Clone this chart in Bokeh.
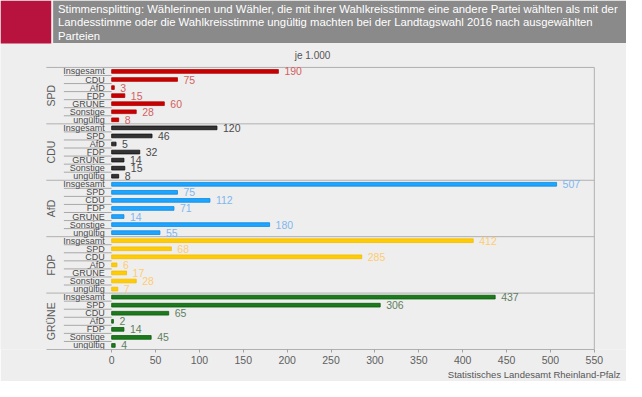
import math
from bokeh.plotting import figure
from bokeh.models import Range1d, FixedTicker, Title, ColumnDataSource
from bokeh.core.properties import value
from bokeh.embed import file_html
from bokeh.resources import INLINE

# ---------------- data ----------------
parties = ["SPD", "CDU", "AfD", "FDP", "GRÜNE"]
spd_cats = ["Insgesamt", "CDU", "AfD", "FDP", "GRÜNE", "Sonstige", "ungültig"]
spd_vals = [190, 75, 3, 15, 60, 28, 8]
cdu_cats = ["Insgesamt", "SPD", "AfD", "FDP", "GRÜNE", "Sonstige", "ungültig"]
cdu_vals = [120, 46, 5, 32, 14, 15, 8]
afd_cats = ["Insgesamt", "SPD", "CDU", "FDP", "GRÜNE", "Sonstige", "ungültig"]
afd_vals = [507, 75, 112, 71, 14, 180, 55]
fdp_cats = ["Insgesamt", "SPD", "CDU", "AfD", "GRÜNE", "Sonstige", "ungültig"]
fdp_vals = [412, 68, 285, 6, 17, 28, 7]
gruene_cats = ["Insgesamt", "SPD", "CDU", "AfD", "FDP", "Sonstige", "ungültig"]
gruene_vals = [437, 306, 65, 2, 14, 45, 4]
x_ticks = [0, 50, 100, 150, 200, 250, 300, 350, 400, 450, 500, 550]

title_lines = [
    "Stimmensplitting:  Wählerinnen und Wähler, die mit ihrer Wahlkreisstimme  eine andere Partei wählten als mit der",
    "Landesstimme  oder die Wahlkreisstimme  ungültig machten bei der Landtagswahl  2016 nach ausgewählten",
    "Parteien",
]
unit_text = "je 1.000"
source_text = "Statistisches Landesamt Rheinland-Pfalz"

# ---------------- styles ----------------
bar_fill = {"SPD": "#c80000", "CDU": "#333333", "AfD": "#1ea5ff", "FDP": "#ffcc00", "GRÜNE": "#1b7a1b"}
bar_line = {"SPD": "#b00000", "CDU": "#111111", "AfD": "#0a8ae0", "FDP": "#f2bb00", "GRÜNE": "#0d5a0d"}
lab_col = {"SPD": "#d46060", "CDU": "#4a4a4a", "AfD": "#7fb7ef", "FDP": "#ffcc70", "GRÜNE": "#5f7f5f"}
BG = "#eeeeee"
FONT = "Liberation Sans"

groups = [spd_cats, cdu_cats, afd_cats, fdp_cats, gruene_cats]
gvals = [spd_vals, cdu_vals, afd_vals, fdp_vals, gruene_vals]
n_per = len(spd_cats)
n_rows = n_per * len(parties)

rows_y, vals, cats, fills, lines, lcols = [], [], [], [], [], []
for gi, party in enumerate(parties):
    for ci, (c, v) in enumerate(zip(groups[gi], gvals[gi])):
        r = gi * n_per + ci
        rows_y.append(n_rows - r - 0.5)
        vals.append(v)
        cats.append(c)
        fills.append(bar_fill[party])
        lines.append(bar_line[party])
        lcols.append(lab_col[party])
src = ColumnDataSource(dict(y=rows_y, v=vals, cat=cats, fill=fills, line=lines, lcol=lcols,
                            lab=[str(v) for v in vals]))

# ---------------- layout (reference pixel geometry) ----------------
W, H = 626, 381
BOTTOM = 32
REF_W = 642
X0, PXU = 114, 0.9          # ref x of value 0, ref px per unit
ROWS_TOP, AXIS_Y = 70, 365  # ref y of plot top and axis line
row_ref = (AXIS_Y - ROWS_TOP) / n_rows

p = figure(width=W, height=H, output_backend="svg", toolbar_location=None, title=None,
           x_range=Range1d(-X0 / PXU, (REF_W - X0) / PXU),
           y_range=Range1d(0, n_rows + ROWS_TOP / row_ref),
           y_axis_location=None,
           min_border_left=0, min_border_right=0, min_border_top=0, min_border_bottom=BOTTOM)
p.extra_x_ranges = {"ref": Range1d(0, REF_W)}
p.extra_y_ranges = {"ref": Range1d(AXIS_Y, 0)}
p.background_fill_color = BG
p.border_fill_color = BG
p.outline_line_color = None
p.xgrid.visible = False
p.ygrid.visible = False

# header
p.quad(left=[0], right=[52], top=[0], bottom=[45], fill_color="#b8123e", line_color=None,
       x_range_name="ref", y_range_name="ref")
p.quad(left=[54], right=[REF_W], top=[0], bottom=[44.5], fill_color="#8a8a8a", line_color=None,
       x_range_name="ref", y_range_name="ref")
p.text(x=[59] * 3, y=[9, 23, 37], text=title_lines, text_color="white",
       text_font=value(FONT), text_font_size="11.3px", text_baseline="middle",
       x_range_name="ref", y_range_name="ref")
p.text(x=[320], y=[57], text=[unit_text], text_color="#555555", text_font=value(FONT),
       text_font_size="10px", text_align="center", text_baseline="middle",
       x_range_name="ref", y_range_name="ref")

# separators & frame border
sep_y = [n_rows - gi * n_per for gi in range(len(parties))]
p.segment(x0=[47] * len(sep_y), x1=[609] * len(sep_y), y0=sep_y, y1=sep_y,
          line_color="#b0b0b0", line_width=1, x_range_name="ref")
p.segment(x0=[609], x1=[609], y0=[0], y1=[n_rows], line_color="#b0b0b0", line_width=1,
          x_range_name="ref")
row_b = [k for k in range(1, n_rows) if k % n_per != 0]
p.segment(x0=[65] * len(row_b), x1=[X0] * len(row_b), y0=row_b, y1=row_b,
          line_color="#a8a8a8", line_width=1, x_range_name="ref")

# bars
p.hbar(y="y", left=0, right="v", height=0.46, fill_color="fill", line_color="line",
       line_width=0.8, source=src)
p.text(x="v", y="y", text="lab", x_offset=6, text_color="lcol", text_font=value(FONT),
       text_font_size="10.5px", text_baseline="middle", source=src)

# category labels
p.text(x=[107] * n_rows, y=rows_y, text=cats, text_color="#4a4a4a", text_font=value(FONT),
       text_font_size="9px", text_align="right", text_baseline="middle", x_range_name="ref")
# group labels
p.text(x=[52] * len(parties), y=[n_rows - gi * n_per - n_per / 2 for gi in range(len(parties))],
       text=parties, angle=math.pi / 2, text_color="#5a5a5a", text_font=value(FONT),
       text_font_size="10.5px", text_align="center", text_baseline="middle", x_range_name="ref")

# x axis
ax = p.xaxis[0]
ax.ticker = FixedTicker(ticks=x_ticks)
ax.bounds = ((47 - X0) / PXU, 550)
ax.axis_line_color = "#b0b0b0"
ax.major_tick_line_color = "#a0a0a0"
ax.major_tick_out = 3
ax.major_tick_in = 0
ax.minor_tick_out = 0
ax.minor_tick_in = 0
ax.minor_tick_line_color = None
ax.major_label_text_color = "#606060"
ax.major_label_text_font = FONT
ax.major_label_text_font_size = "10.5px"
ax.major_label_standoff = 3

cap = Title(text=source_text, align="right", text_font_size="9.5px", text_color="#555555",
            text_font=FONT, text_font_style="normal", standoff=0, offset=6)
p.add_layout(cap, "below")

open("out.html", "w").write(file_html(p, INLINE))
